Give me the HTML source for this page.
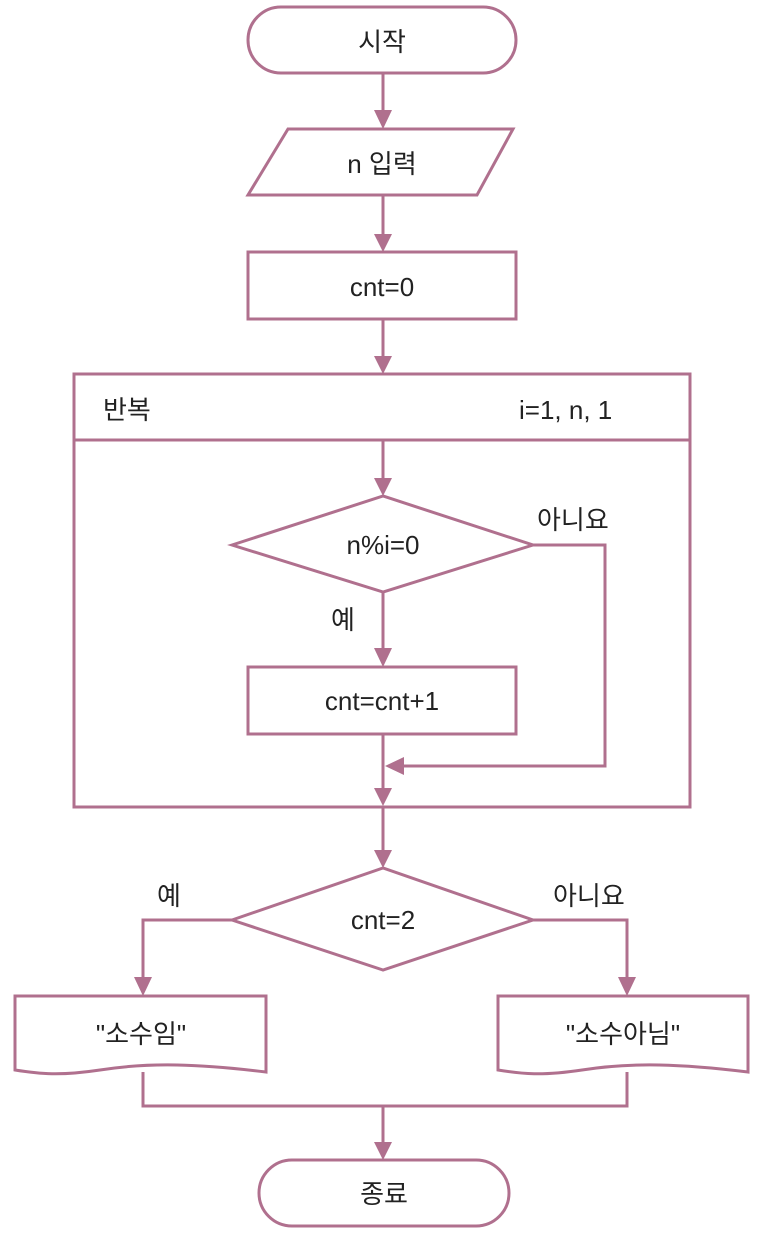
<!DOCTYPE html>
<html><head><meta charset="utf-8"><style>
html,body{margin:0;padding:0;background:#fff;}
svg{display:block;}
text{font-family:"Liberation Sans","Noto Sans CJK KR",sans-serif;font-size:26px;fill:#222;}
</style></head><body>
<svg width="759" height="1245" viewBox="0 0 759 1245" xmlns="http://www.w3.org/2000/svg">
<defs>
<marker id="a" markerWidth="10" markerHeight="10" refX="9" refY="5" orient="auto" markerUnits="userSpaceOnUse" viewBox="0 0 10 10">
</marker>
</defs>
<g fill="none" stroke="#b0708e" stroke-width="3">
<rect x="248" y="7" width="268" height="66" rx="33"/>
<polygon points="288,129 513,129 477,195 248,195"/>
<rect x="248" y="252" width="268" height="67"/>
<rect x="74" y="374" width="616" height="433"/>
<line x1="74" y1="440" x2="690" y2="440"/>
<polygon points="232,545 383,496 533,545 383,592"/>
<rect x="248" y="667" width="268" height="67"/>
<polyline points="533,545 605,545 605,766 400,766"/>
<polygon points="232,920 383,868 533,920 383,970"/>
<polyline points="232,920 143,920 143,980"/>
<polyline points="533,920 627,920 627,980"/>
<path d="M15,996 H266 V1072 C200,1064 150,1062 100,1070 C60,1076 40,1074 15,1070 Z"/>
<path d="M498,996 H748 V1072 C682,1064 632,1062 582,1070 C542,1076 522,1074 498,1070 Z"/>
<polyline points="143,1072 143,1106 627,1106 627,1072"/>
<rect x="259" y="1160" width="250" height="66" rx="33"/>
<line x1="383" y1="73" x2="383" y2="115"/>
<line x1="383" y1="195" x2="383" y2="237"/>
<line x1="383" y1="319" x2="383" y2="359"/>
<line x1="383" y1="440" x2="383" y2="481"/>
<line x1="383" y1="592" x2="383" y2="652"/>
<line x1="383" y1="734" x2="383" y2="792"/>
<line x1="383" y1="807" x2="383" y2="853"/>
<line x1="383" y1="1106" x2="383" y2="1145"/>
</g>
<g fill="#b0708e">
<polygon points="374,110 392,110 383,129"/>
<polygon points="374,234 392,234 383,252"/>
<polygon points="374,356 392,356 383,374"/>
<polygon points="374,478 392,478 383,496"/>
<polygon points="374,648 392,648 383,667"/>
<polygon points="374,788 392,788 383,806"/>
<polygon points="374,850 392,850 383,868"/>
<polygon points="134,977 152,977 143,996"/>
<polygon points="618,977 636,977 627,996"/>
<polygon points="374,1142 392,1142 383,1160"/>
<polygon points="404,757 404,775 385,766"/>
</g>
<g text-anchor="middle">
<text x="382" y="51">시작</text>
<text x="382" y="173">n 입력</text>
<text x="382" y="296">cnt=0</text>
<text x="383" y="554">n%i=0</text>
<text x="382" y="710">cnt=cnt+1</text>
<text x="383" y="929">cnt=2</text>
<text x="141" y="1043">"소수임"</text>
<text x="623" y="1043">"소수아님"</text>
<text x="384" y="1203">종료</text>
</g>
<text x="103" y="419">반복</text>
<text x="519" y="419">i=1, n, 1</text>
<text x="537" y="529">아니요</text>
<text x="331" y="629">예</text>
<text x="157" y="905">예</text>
<text x="553" y="905">아니요</text>
</svg>
</body></html>
